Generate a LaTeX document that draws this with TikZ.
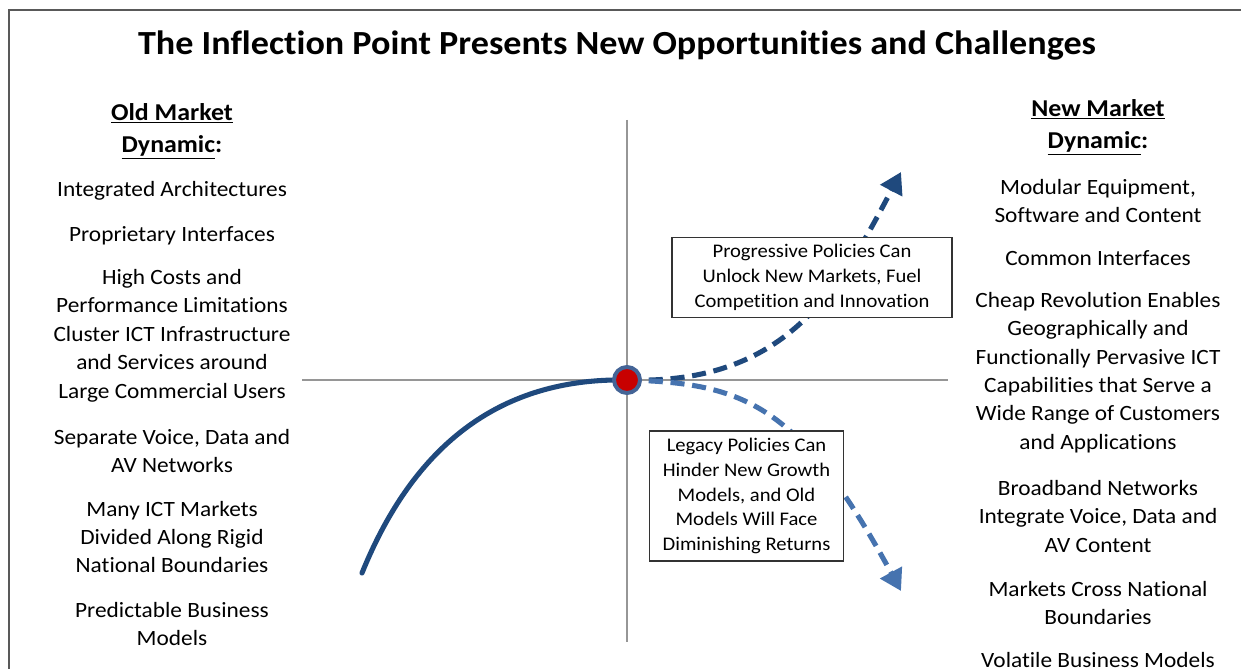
\documentclass[tikz,border=0pt]{standalone}
\usepackage{fontspec}
\setmainfont{Carlito}[FakeStretch=1.07,Ligatures=NoCommon]
\usetikzlibrary{arrows.meta,positioning,calc}
\definecolor{navy}{RGB}{31,73,125}
\definecolor{steel}{RGB}{70,115,175}
\definecolor{ringblue}{RGB}{68,100,150}
\definecolor{dotred}{RGB}{200,0,0}
\definecolor{axisgray}{RGB}{150,150,150}
\tikzset{
  item/.style={align=center,font=\fontsize{15.5}{20.2}\selectfont},
  head/.style={align=center,font=\bfseries\fontsize{17.2}{23}\selectfont},
  policy/.style={draw=black!80,fill=white,line width=0.8pt,align=center,inner sep=0pt,font=\fontsize{13.7}{17.7}\selectfont},
  growth/.style={line width=3.6pt,dash pattern=on 10pt off 5.5pt,-{Triangle[length=15pt,width=17pt]}}
}

\begin{document}
\begin{tikzpicture}[x=0.025cm,y=-0.025cm]
    \useasboundingbox (0,0) rectangle (1241,669);
    \draw[black!65,line width=1.4pt] (9,669) -- (9,10) -- (1241,10);
    \node[font=\bfseries\fontsize{24}{28}\selectfont] (title) at (617,46) {The Inflection Point Presents New Opportunities and Challenges};

    % the two columns of market traits
    \node[head] (lhead) at (172,131) {\underline{Old Market}\\\underline{Dynamic}:};
    \node[head] (rhead) at (1098,127) {\underline{New Market}\\\underline{Dynamic}:};
    \foreach \t/\y [count=\i] in {
      Integrated Architectures/191,Proprietary Interfaces/236,
      {High Costs and\\Performance Limitations\\Cluster ICT Infrastructure\\and Services around\\Large Commercial Users}/335.5,
      {Separate Voice, Data and\\AV Networks}/451,
      {Many ICT Markets\\Divided Along Rigid\\National Boundaries}/537,
      {Predictable Business\\Models}/624}
      \node[item] (l\i) at (172,\y) {\t};
    \foreach \t/\y [count=\i] in {
      {Modular Equipment,\\Software and Content}/201,Common Interfaces/258,
      {Cheap Revolution Enables\\Geographically and\\Functionally Pervasive ICT\\Capabilities that Serve a\\Wide Range of Customers\\and Applications}/372.5,
      {Broadband Networks\\Integrate Voice, Data and\\AV Content}/516.5,
      {Markets Cross National\\Boundaries}/603,Volatile Business Models/660}
      \node[item] (r\i) at (1098,\y) {\t};

    % axes through the inflection point
    \coordinate (ytop) at (627,120);
    \coordinate (ybot) at (627,642);
    \coordinate (xleft) at (302,380);
    \coordinate (xright) at (948,380);
    \draw[axisgray,line width=1pt] (ytop) -- (ybot) (xleft) -- (xright);

    \coordinate (pt) at (627,380);
    \coordinate (start) at (362,573);
    \coordinate (upTip) at (901,172);
    \coordinate (downTip) at (901,591);
    \draw[navy,line width=3.6pt,line cap=round] (start) .. controls (422,425) and (520,378) .. (pt);
    \draw[navy,growth] (pt) .. controls (785,385) and (838,292) .. (upTip);
    \draw[steel,growth] (pt) .. controls (745,383) and (800,405) .. (downTip);

    \node[policy,minimum width=7cm,minimum height=2.02cm] (progressive) at (812,277.5)
      {Progressive Policies Can\\Unlock New Markets, Fuel\\Competition and Innovation};
    \node[policy,minimum width=4.83cm,minimum height=3.25cm] (legacy) at (746.5,496)
      {Legacy Policies Can\\Hinder New Growth\\Models, and Old\\Models Will Face\\Diminishing Returns};

    \node[circle,draw=ringblue,line width=2.8pt,fill=dotred,minimum size=0.65cm,inner sep=0pt] (dot) at (pt) {};
\end{tikzpicture}
\end{document}
